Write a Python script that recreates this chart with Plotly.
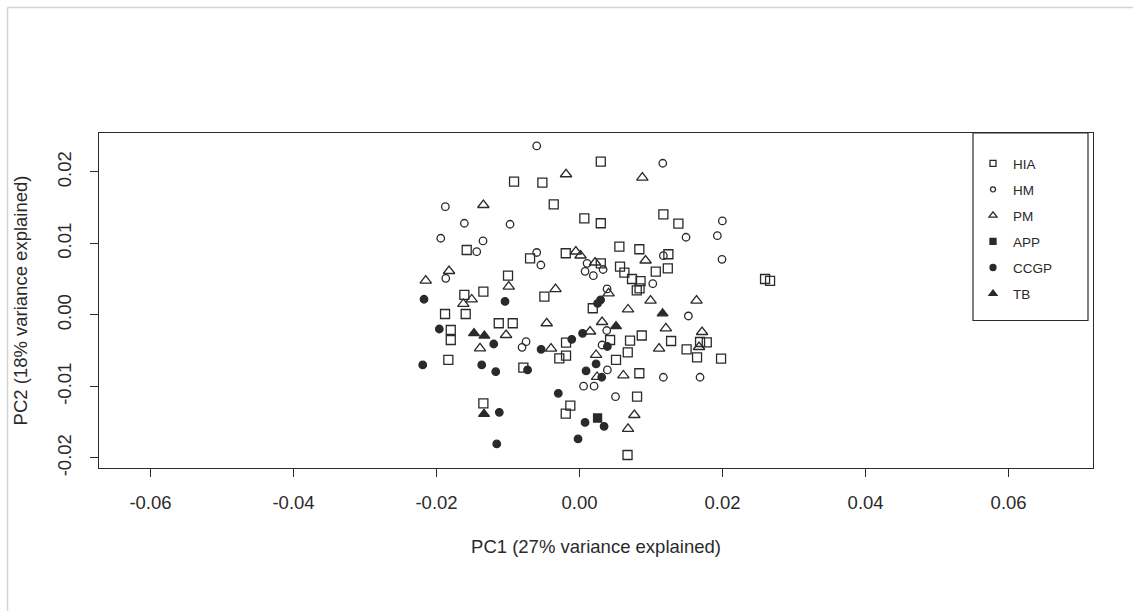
import plotly.graph_objects as go

# ---- data (PC1, PC2) per group ----
HIA_x = [0.00297, -0.00916, -0.00520, -0.00361, 0.00067, 0.00297, 0.01172, 0.01382, -0.01578, -0.00692,
         -0.00193, 0.00557, 0.00836, 0.01242, 0.00297, 0.00566, 0.00627, 0.00734, 0.00853, 0.01066,
         0.01234, 0.00800, 0.00839, 0.02594, 0.02664, -0.01000, -0.01345, -0.01611, -0.00492, -0.01881,
         -0.01592, 0.00185, -0.01801, -0.01801, -0.01130, -0.00934, -0.00189, -0.00283, -0.00189, -0.01835,
         -0.00786, 0.00427, 0.00706, 0.00870, 0.01280, 0.00674, 0.00510, 0.01779, 0.01685, 0.01497,
         0.01643, 0.01979, 0.00836, 0.00804, -0.00129, -0.00193, -0.01345, 0.00671]
HIA_y = [0.02144, 0.01864, 0.01850, 0.01548, 0.01352, 0.01283, 0.01408, 0.01277, 0.00909, 0.00793,
         0.00863, 0.00955, 0.00919, 0.00849, 0.00723, 0.00676, 0.00592, 0.00503, 0.00473, 0.00606,
         0.00653, 0.00343, 0.00373, 0.00503, 0.00476, 0.00550, 0.00326, 0.00280, 0.00256, 0.00014,
         0.00014, 0.00094, -0.00210, -0.00350, -0.00116, -0.00116, -0.00387, -0.00606, -0.00569, -0.00629,
         -0.00737, -0.00350, -0.00359, -0.00287, -0.00364, -0.00524, -0.00629, -0.00382, -0.00378, -0.00480,
         -0.00594, -0.00611, -0.00815, -0.01143, -0.01269, -0.01380, -0.01235, -0.01958]

HM_x = [-0.00599, 0.01164, -0.01877, -0.01611, -0.00972, -0.01941, -0.01350, -0.01438, -0.00599, -0.00541,
        0.00105, 0.00077, 0.00193, 0.00329, 0.01997, 0.01489, 0.01927, 0.01992, 0.01172, 0.01024,
        0.00385, -0.01871, 0.01522, -0.00748, -0.00804, 0.00380, 0.00315, 0.00389, 0.00056, 0.00203,
        0.00503, 0.01172, 0.01685]
HM_y = [0.02364, 0.02122, 0.01515, 0.01283, 0.01269, 0.01073, 0.01035, 0.00885, 0.00874, 0.00699,
        0.00723, 0.00611, 0.00550, 0.00636, 0.01315, 0.01087, 0.01109, 0.00779, 0.00829, 0.00438,
        0.00364, 0.00513, -0.00014, -0.00373, -0.00452, -0.00217, -0.00420, -0.00769, -0.00996, -0.00996,
        -0.01143, -0.00871, -0.00871]

PM_x = [-0.00189, 0.00878, -0.01345, -0.00052, 0.00014, 0.00217, 0.00923, -0.01825, -0.02151, -0.00990,
        -0.00336, -0.01625, -0.01508, 0.00406, 0.00678, 0.00993, 0.01636, -0.01392, -0.01028, -0.00459,
        -0.00399, 0.00147, 0.00315, 0.01207, 0.01112, 0.01713, 0.01671, 0.00231, 0.00245, 0.00613,
        0.00766, 0.00678]
PM_y = [0.01968, 0.01920, 0.01538, 0.00888, 0.00832, 0.00734, 0.00762, 0.00615, 0.00480, 0.00396,
        0.00361, 0.00154, 0.00217, 0.00303, 0.00077, 0.00200, 0.00200, -0.00466, -0.00280, -0.00116,
        -0.00471, -0.00231, -0.00098, -0.00186, -0.00471, -0.00238, -0.00448, -0.00559, -0.00867, -0.00846,
        -0.01399, -0.01592]

APP_x = [0.00252]
APP_y = [-0.01441]

CCGP_x = [-0.02175, -0.01042, -0.01961, -0.01200, -0.00538, -0.00109, 0.00042, 0.00294, 0.00252, -0.02193,
          -0.01368, -0.01172, -0.00727, 0.00091, 0.00231, 0.00389, 0.00310, -0.00297, -0.01122, 0.00077,
          0.00343, -0.00021, -0.01158]
CCGP_y = [0.00220, 0.00189, -0.00196, -0.00406, -0.00480, -0.00340, -0.00256, 0.00210, 0.00161, -0.00699,
          -0.00699, -0.00793, -0.00769, -0.00783, -0.00685, -0.00441, -0.00871, -0.01095, -0.01361, -0.01503,
          -0.01557, -0.01734, -0.01804]

TB_x = [-0.01476, -0.01331, -0.01336, 0.00510, 0.01161]
TB_y = [-0.00256, -0.00290, -0.01385, -0.00158, 0.00021]

groups = ["HIA", "HM", "PM", "APP", "CCGP", "TB"]
xticks = [-0.06, -0.04, -0.02, 0.00, 0.02, 0.04, 0.06]
xtick_text = ["-0.06", "-0.04", "-0.02", "0.00", "0.02", "0.04", "0.06"]
yticks = [-0.02, -0.01, 0.00, 0.01, 0.02]
ytick_text = ["-0.02", "-0.01", "0.00", "0.01", "0.02"]

INK = "#2a2a2a"
FONT = "Liberation Sans, Arial, sans-serif"

styles = {
    "HIA": dict(symbol="square-open", size=9),
    "HM": dict(symbol="circle-open", size=7.5),
    "PM": dict(symbol="triangle-up-open", size=10),
    "APP": dict(symbol="square", size=8),
    "CCGP": dict(symbol="circle", size=7.5),
    "TB": dict(symbol="triangle-up", size=9.5),
}
leg_styles = {
    "HIA": dict(symbol="square-open", size=6),
    "HM": dict(symbol="circle-open", size=5),
    "PM": dict(symbol="triangle-up-open", size=7),
    "APP": dict(symbol="square", size=6),
    "CCGP": dict(symbol="circle", size=6),
    "TB": dict(symbol="triangle-up", size=7),
}
data = {
    "HIA": (HIA_x, HIA_y), "HM": (HM_x, HM_y), "PM": (PM_x, PM_y),
    "APP": (APP_x, APP_y), "CCGP": (CCGP_x, CCGP_y), "TB": (TB_x, TB_y),
}

fig = go.Figure()
for g in groups:
    xs, ys = data[g]
    st = styles[g]
    fig.add_trace(go.Scatter(
        x=xs, y=ys, mode="markers", name=g, showlegend=False, legendgroup=g,
        marker=dict(symbol=st["symbol"], size=st["size"], color=INK,
                    line=dict(color=INK, width=1.3)),
        hoverinfo="x+y+name",
    ))
for g in groups:
    st = leg_styles[g]
    fig.add_trace(go.Scatter(
        x=[None], y=[None], mode="markers", name=g, showlegend=True, legendgroup=g,
        marker=dict(symbol=st["symbol"], size=st["size"], color=INK,
                    line=dict(color=INK, width=1.3)),
    ))

L, R, T, B = 99, 1093, 133, 468
W, H = 1133, 611

def px_x(p):
    return (p - L) / (R - L)

def px_y(p):
    return (B - p) / (B - T)

shapes = [
    # legend box
    dict(type="rect", xref="paper", yref="paper", x0=px_x(973), x1=px_x(1088), y0=px_y(320.5), y1=1,
         line=dict(color=INK, width=1.2), fillcolor="rgba(0,0,0,0)"),
    # outer light border (top and left)
    dict(type="line", xref="paper", yref="paper", x0=px_x(7.5), x1=px_x(W), y0=px_y(7.5), y1=px_y(7.5),
         line=dict(color="#d4d4d4", width=1.5)),
    dict(type="line", xref="paper", yref="paper", x0=px_x(7.5), x1=px_x(7.5), y0=px_y(7.5), y1=px_y(W),
         line=dict(color="#d4d4d4", width=1.5)),
]

fig.update_layout(
    width=W, height=H,
    margin=dict(l=L, r=W - R, t=T, b=H - B, pad=0),
    paper_bgcolor="white", plot_bgcolor="white",
    font=dict(family=FONT, color=INK, size=18.5),
    shapes=shapes,
    legend=dict(
        x=px_x(973), xanchor="left", y=px_y(148), yanchor="top",
        bgcolor="rgba(0,0,0,0)", borderwidth=0,
        font=dict(family=FONT, size=13.5, color=INK),
        tracegroupgap=5.5, itemclick=False,
    ),
    xaxis=dict(
        range=[-0.0672, 0.0718], tickmode="array", tickvals=xticks, ticktext=xtick_text,
        showgrid=False, zeroline=False, showline=True, mirror=True, linecolor=INK, linewidth=1.2,
        ticks="outside", ticklen=8, tickwidth=1.2, tickcolor=INK,
        tickfont=dict(size=18.5, family=FONT, color=INK),
        ticklabelstandoff=10,
        title=dict(text="PC1 (27% variance explained)", font=dict(size=18.5, family=FONT, color=INK), standoff=27),
    ),
    yaxis=dict(
        range=[-0.0214, 0.02545], tickmode="array", tickvals=yticks, ticktext=ytick_text,
        showgrid=False, zeroline=False, showline=True, mirror=True, linecolor=INK, linewidth=1.2,
        ticks="outside", ticklen=8, tickwidth=1.2, tickcolor=INK, tickangle=-90,
        tickfont=dict(size=18.5, family=FONT, color=INK),
        ticklabelstandoff=12,
        title=dict(text="PC2 (18% variance explained)", font=dict(size=18.5, family=FONT, color=INK), standoff=21),
    ),
)

fig.write_html("out.html")
